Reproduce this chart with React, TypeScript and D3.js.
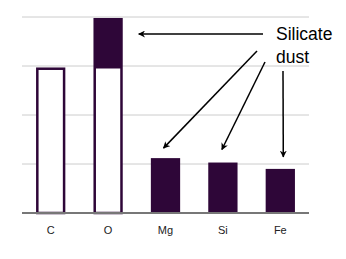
import React from 'react';
import * as d3 from 'd3';

const elements = ['C', 'O', 'Mg', 'Si', 'Fe'];
// undepleted part (outlined) and dust part (filled)
const gasValues = [2.97, 3.0, 0, 0, 0];
const dustValues = [0, 0.98, 1.12, 1.03, 0.9];
const yTicks = [1, 2, 3, 4];

const width = 346;
const height = 259;
const marginTop = 17;
const marginBottom = 46;
const marginLeft = 22;
const marginRight = 37;
const dark = '#2e0638';

export default function App() {
  const x = d3.scaleBand<string>()
    .domain(elements)
    .range([marginLeft, width - marginRight])
    .paddingInner(0.49)
    .paddingOuter(0.245);
  const y = d3.scaleLinear().domain([0, 4]).range([height - marginBottom, marginTop]);
  const bw = x.bandwidth();

  const cx = (e: string) => (x(e) ?? 0) + bw / 2;
  const top = (i: number) => y(gasValues[i] + dustValues[i]);

  // annotation arrows, anchored to the bars they point at
  const arrows = [
    { x1: 263, y1: 34, x2: (x('O') ?? 0) + bw + 16, y2: 34 },
    { x1: 257, y1: 51, x2: cx('Mg') - 2, y2: top(2) - 10 },
    { x1: 265, y1: 62, x2: cx('Si') - 1, y2: top(3) - 13 },
    { x1: 283, y1: 71, x2: cx('Fe') + 3, y2: top(4) - 12 },
  ];

  return (
    <svg width={width} height={height} style={{ position: 'absolute', left: 0, top: 0, background: '#fff' }}>
      <defs>
        <marker id="head" viewBox="0 0 10 10" refX="9" refY="5" markerWidth="7" markerHeight="7" orient="auto" markerUnits="userSpaceOnUse">
          <path d="M0,0 L10,5 L0,10 L3,5 z" fill="#000" />
        </marker>
      </defs>
      {yTicks.map(t => (
        <line key={t} x1={marginLeft} x2={width - marginRight} y1={y(t)} y2={y(t)} stroke="#cccccc" strokeWidth={1} />
      ))}
      {elements.map((e, i) => (
        <g key={e}>
          {gasValues[i] > 0 && (
            <rect
              x={(x(e) ?? 0) + 1.25}
              y={y(gasValues[i]) + 1.25}
              width={bw - 2.5}
              height={y(0) - y(gasValues[i]) - 1.25}
              fill="#fff"
              stroke={dark}
              strokeWidth={2.5}
            />
          )}
          {dustValues[i] > 0 && (
            <rect
              x={x(e)}
              y={y(gasValues[i] + dustValues[i])}
              width={bw}
              height={y(gasValues[i]) - y(gasValues[i] + dustValues[i])}
              fill={dark}
            />
          )}
          <text
            x={cx(e)}
            y={y(0) + 21}
            textAnchor="middle"
            fontFamily="Liberation Sans, Arial, sans-serif"
            fontSize={11}
            fill="#222"
          >
            {e}
          </text>
        </g>
      ))}
      <line x1={marginLeft} x2={width - marginRight} y1={y(0)} y2={y(0)} stroke="#777" strokeWidth={2} />
      {arrows.map((a, i) => (
        <line key={i} x1={a.x1} y1={a.y1} x2={a.x2} y2={a.y2} stroke="#000" strokeWidth={1.5} markerEnd="url(#head)" />
      ))}
      <text fontFamily="Liberation Sans, Arial, sans-serif" fontSize={17.5} fill="#000">
        <tspan x={276} y={39.5}>Silicate</tspan>
        <tspan x={276} y={62.5}>dust</tspan>
      </text>
    </svg>
  );
}
